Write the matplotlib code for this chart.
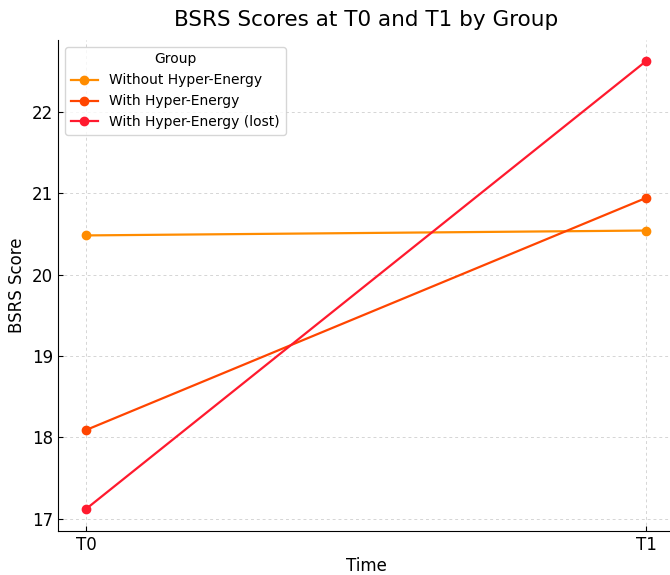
import matplotlib
matplotlib.use('Agg')
import matplotlib.pyplot as plt

times = ['T0', 'T1']
groups = ['Without Hyper-Energy', 'With Hyper-Energy', 'With Hyper-Energy (lost)']
without_he = [20.48, 20.54]
with_he = [18.09, 20.94]
with_he_lost = [17.12, 22.62]
colors = ['#FF8C00', '#FF4500', '#FF1A2E']

fig = plt.figure(figsize=(6.7, 5.75), dpi=100)
ax = fig.add_axes([58/670, 44/575, 616/670, 491/575])

for name, vals, c in zip(groups, [without_he, with_he, with_he_lost], colors):
    ax.plot(times, vals, marker='o', color=c, label=name, linewidth=1.6, markersize=6)

ax.set_title('BSRS Scores at T0 and T1 by Group', fontsize=15.5, pad=10)
ax.set_xlabel('Time', fontsize=12, labelpad=2)
ax.set_ylabel('BSRS Score', fontsize=12)
ax.tick_params(direction='in', labelsize=12)
ax.grid(True, linestyle=(0, (3, 3)), color='#d5d5d5', linewidth=0.7)
ax.spines['top'].set_visible(False)
ax.spines['right'].set_visible(False)
ax.set_ylim(16.85, 22.88)
ax.set_xlim(-0.05, 1.05)
ax.legend(title='Group', loc='upper left', fontsize=10, title_fontsize=10)

fig.savefig('out.png', dpi=100)
